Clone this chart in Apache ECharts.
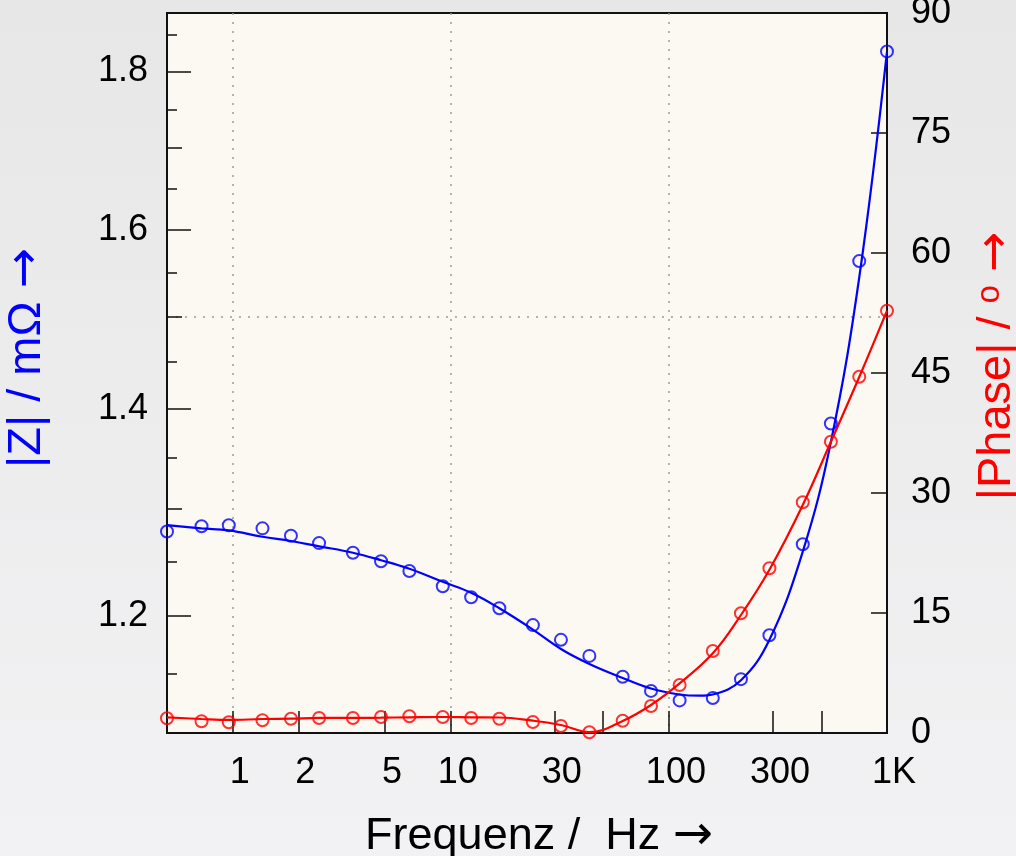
<!DOCTYPE html>
<html>
<head>
<meta charset="utf-8">
<script src="https://cdn.jsdelivr.net/npm/echarts@6/dist/echarts.min.js"></script>
<style>html,body{margin:0;padding:0;overflow:hidden;}#c{width:1016px;height:856px;}</style>
</head>
<body>
<div id="c"></div>
<script>
// measured frequencies (Hz)
const freq = [0.5,0.72,0.96,1.37,1.85,2.49,3.56,4.79,6.46,9.19,12.4,16.7,23.8,32.0,43.2,61.4,82.8,112,159,214,289,411,553,746,1000];
// measured |Z| (mOhm)
const zMeas = [1.278,1.283,1.284,1.281,1.274,1.267,1.258,1.250,1.241,1.227,1.217,1.207,1.192,1.179,1.165,1.147,1.135,1.127,1.129,1.145,1.183,1.266,1.385,1.563,1.827];
// measured |Phase| (deg)
const phaseMeas = [1.84,1.46,1.34,1.59,1.79,1.88,1.88,2.0,2.09,2.0,1.88,1.79,1.38,0.88,0.09,1.54,3.38,6.0,10.25,14.96,20.59,28.84,36.41,44.54,52.79];
// fitted |Z| curve
const zFitFreq = [0.5,0.72,0.96,1.37,1.85,2.49,3.56,4.79,6.46,9.19,12.4,16.7,23.8,32.0,43.2,61.4,82.8,112,139,159,214,289,411,553,746,1000];
const zFit = [1.284,1.281,1.279,1.273,1.269,1.264,1.258,1.251,1.243,1.231,1.221,1.207,1.188,1.171,1.158,1.146,1.137,1.132,1.131,1.132,1.144,1.179,1.259,1.366,1.544,1.827];
// fitted phase curve
const phaseFitFreq = freq;
const phaseFit = [1.96,1.75,1.63,1.75,1.79,1.88,1.88,1.91,1.96,2.0,1.96,1.94,1.54,1.0,0.1,1.5,3.5,6.2,9.96,14.75,20.4,28.5,36.4,44.5,52.8];

// ticks / labels
const xLabelValues = [1,2,5,10,30,100,300,1000];
const xTickValues = [1,2,5,10,30,50,100,300,500];
const xGridValues = [1,10,100];
const zLabelValues = [1.2,1.4,1.6,1.8];
const zMidTicks = [1.3,1.5,1.7];
const zMinorTicks = [1.15,1.25,1.35,1.45,1.55,1.65,1.75,1.85];
const zGridValues = [1.5];

const AX = '#111';
const BLUE = '#0000ff';
const RED = '#ff0000';
const FONT = 'Liberation Sans, Arial, sans-serif';
const dotted = {color:'#9a9a9a', type:[2,7], width:1.5};
const arrowRich = {a:{fontFamily:'DejaVu Sans', fontSize:48}, d:{fontSize:33, verticalAlign:'top'}};

function fmtX(v){ const r = Math.round(v*1000)/1000; return r >= 1000 ? '1K' : String(r); }

const zMin = 1.1, zMax = 1.88;
function extraZAxis(vals, len, grid){
  return {type:'log', logBase:10, min:zMin, max:zMax, position:'left', offset:0,
    axisLine:{show:false},
    axisTick:{show:!grid, inside:true, length:len, customValues:vals, lineStyle:{color:AX,width:1.5}},
    axisLabel:{show:false}, minorTick:{show:false},
    splitLine:{show:!!grid, lineStyle:dotted}};
}

const chart = echarts.init(document.getElementById('c'), null, {renderer:'canvas'});
chart.setOption({
  animation:false,
  backgroundColor:{type:'linear',x:0,y:0,x2:0,y2:1,colorStops:[{offset:0,color:'#e7e7e7'},{offset:1,color:'#f2f2f4'}]},
  textStyle:{fontFamily:FONT},
  grid:{left:167,right:129,top:13,bottom:123,show:true,backgroundColor:'#fbf9f1',borderColor:AX,borderWidth:2,outerBoundsMode:'none',containLabel:false},
  xAxis:[
    {type:'log', logBase:10, min:0.5, max:1000, position:'bottom',
     axisLine:{show:true,lineStyle:{color:AX,width:2}},
     axisTick:{show:true,inside:true,length:22,customValues:xTickValues,lineStyle:{color:AX,width:1.5}},
     minorTick:{show:false},
     axisLabel:{show:true,customValues:xLabelValues,formatter:fmtX,margin:22,fontSize:36,color:'#000',fontFamily:FONT,padding:[0,0,0,14]},
     splitLine:{show:false},
     name:'Frequenz /  Hz {a|\u2192}', nameLocation:'middle', nameGap:80,
     nameTextStyle:{fontSize:45,color:'#000',fontFamily:FONT,padding:[0,0,0,24],rich:arrowRich}},
    {type:'log', logBase:10, min:0.5, max:1000, position:'top',
     axisLine:{show:false},
     axisTick:{show:false,customValues:xGridValues},
     axisLabel:{show:false}, minorTick:{show:false},
     splitLine:{show:true,lineStyle:dotted}}
  ],
  yAxis:[
    {type:'log', logBase:10, min:zMin, max:zMax, position:'left',
     axisLine:{show:true,lineStyle:{color:AX,width:2}},
     axisTick:{show:true,inside:true,length:24,customValues:zLabelValues,lineStyle:{color:AX,width:1.5}},
     minorTick:{show:false},
     axisLabel:{show:true,customValues:zLabelValues,formatter:v=>(+v).toFixed(1),margin:19,fontSize:36,color:'#000',fontFamily:FONT,padding:[5,0,0,0]},
     splitLine:{show:false},
     name:'|Z| / m\u03A9 {a|\u2192}', nameLocation:'middle', nameRotate:90, nameGap:116,
     nameTextStyle:{fontSize:47,color:BLUE,fontFamily:FONT,padding:[0,0,0,30],rich:arrowRich}},
    {type:'value', min:0, max:90, interval:15, position:'right',
     axisLine:{show:true,lineStyle:{color:AX,width:2}},
     axisTick:{show:true,inside:true,length:16,lineStyle:{color:AX,width:1.5}},
     axisLabel:{show:true,margin:24,fontSize:36,color:'#000',fontFamily:FONT,padding:[5,0,0,0]},
     splitLine:{show:false},
     name:'|Phase| / {d|o} {a|\u2192}', nameLocation:'middle', nameRotate:90, nameGap:86,
     nameTextStyle:{fontSize:47,color:RED,fontFamily:FONT,padding:[0,0,0,14],rich:arrowRich}},
    extraZAxis(zMidTicks,15,false),
    extraZAxis(zMinorTicks,10,false),
    extraZAxis(zGridValues,0,true)
  ],
  series:[
    {type:'line', xAxisIndex:0, yAxisIndex:0, data:zFitFreq.map((f,i)=>[f,zFit[i]]),
     smooth:0.4, showSymbol:false, symbol:'none', lineStyle:{color:BLUE,width:2.2}, z:3},
    {type:'scatter', xAxisIndex:0, yAxisIndex:0, data:freq.map((f,i)=>[f,zMeas[i]]),
     symbol:'circle', symbolSize:12, itemStyle:{color:'rgba(0,0,0,0)',borderColor:BLUE,borderWidth:2}, z:4},
    {type:'line', xAxisIndex:0, yAxisIndex:1, data:phaseFitFreq.map((f,i)=>[f,phaseFit[i]]),
     smooth:0.4, showSymbol:false, symbol:'none', lineStyle:{color:RED,width:2.2}, z:3},
    {type:'scatter', xAxisIndex:0, yAxisIndex:1, data:freq.map((f,i)=>[f,phaseMeas[i]]),
     symbol:'circle', symbolSize:12, itemStyle:{color:'rgba(0,0,0,0)',borderColor:RED,borderWidth:2}, z:4}
  ]
});
</script>
</body>
</html>
